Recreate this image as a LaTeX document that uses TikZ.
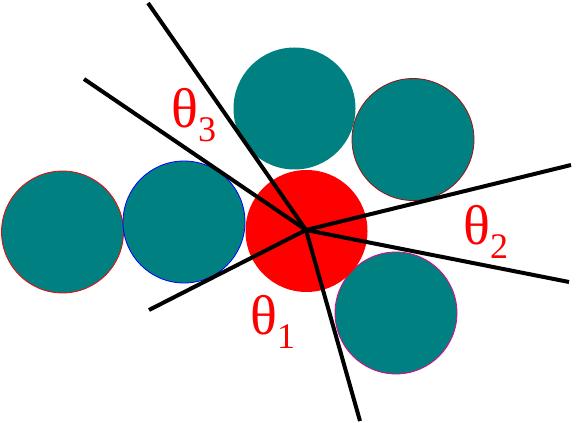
\documentclass[tikz,border=0pt]{standalone}
\usepackage{fontspec}
\setmainfont{Liberation Serif}
\usepackage{tikz}
\definecolor{ballteal}{HTML}{008080}
\definecolor{rimred}{HTML}{A01010}

\begin{document}
\begin{tikzpicture}[
    x=0.75pt, y=-0.75pt,
    ball/.style={circle, fill=ballteal, minimum size=91.5pt, inner sep=0pt, line width=0.6pt},
    ray/.style={line width=3pt, black},
    angle/.style={text=red, inner sep=0pt, anchor=base west, font=\fontsize{42}{44}\selectfont}
]
\useasboundingbox (0,0) rectangle (581,423);

	% the balls
	\node[ball, draw=red] (left) at (62.5,232) {};
	\node[ball, draw=blue] (mid) at (184,222) {};
	\node[ball] (top) at (294.5,108.5) {};
	\node[ball, draw=rimred] (topright) at (413,139.5) {};
	\node[ball, draw=magenta] (botright) at (396,313) {};
	\node[ball, fill=red] (hub) at (306.5,231) {};

	% free ends of the rays
	\coordinate (c) at (306,230);
	\coordinate (e1) at (148,3);
	\coordinate (e2) at (84,79);
	\coordinate (e3) at (149,310);
	\coordinate (e4) at (360,421);
	\coordinate (e5) at (571,165);
	\coordinate (e6) at (569,282);
	\foreach \i in {1,...,6} {
        \draw[ray] (c) -- (e\i);
    }

	\node[angle] (th3) at (171,128) {θ\raisebox{-0.24em}{\fontsize{27}{27}\selectfont 3}};
	\node[angle] (th1) at (250,335) {θ\raisebox{-0.24em}{\fontsize{27}{27}\selectfont 1}};
	\node[angle] (th2) at (463,245) {θ\raisebox{-0.24em}{\fontsize{27}{27}\selectfont 2}};
\end{tikzpicture}
\end{document}
